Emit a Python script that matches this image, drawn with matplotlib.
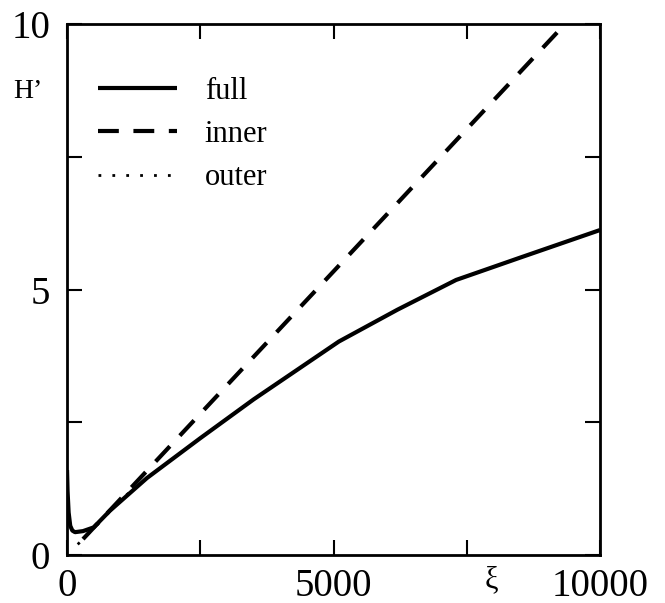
import numpy as np
import matplotlib
matplotlib.use("Agg")
import matplotlib.pyplot as plt

plt.rcParams['font.family'] = ['Liberation Serif', 'DejaVu Serif']

# full solution
full_xi = [0, 10, 30, 60, 100, 150, 300, 500, 800, 1500, 2500, 3500, 5100, 6200, 7300, 8500, 10000]
full_h = [1.6, 1.2, 0.8, 0.55, 0.46, 0.43, 0.45, 0.52, 0.83, 1.45, 2.2, 2.93, 4.02, 4.62, 5.18, 5.6, 6.12]

# inner solution (straight line)
inner_xi = [300, 9400]
inner_h = [0.3, 10.06]

# outer solution, only visible near the origin
outer_xi = [200, 263, 400, 600, 900, 1300]
outer_h = [0.2, 0.26, 0.4, 0.6, 0.93, 1.3]

x_ticks = [0, 2500, 5000, 7500, 10000]
x_labels = ['0', '', '5000', '', '10000']
y_ticks = [0, 2.5, 5, 7.5, 10]
y_labels = ['0', '', '5', '', '10']

fig = plt.figure(figsize=(6.65, 6.03), dpi=100)
ax = fig.add_axes([0.1008, 0.0796, 0.8015, 0.8806])

ax.plot(full_xi, full_h, color='black', lw=3, solid_capstyle='butt', label='full')
ax.plot(inner_xi, inner_h, color='black', lw=3, linestyle=(0, (5, 3.5)), dash_capstyle='butt', label='inner')
ax.plot(outer_xi, outer_h, color='black', lw=2, linestyle=(0, (1, 4)), label='outer')

ax.set_xlim(0, 10000)
ax.set_ylim(0, 10)
ax.set_xticks(x_ticks)
ax.set_xticklabels(x_labels)
ax.set_yticks(y_ticks)
ax.set_yticklabels(y_labels)
ax.tick_params(direction='in', length=10.5, width=1.5, labelsize=28,
               top=True, right=True)
ax.tick_params(axis='x', pad=9)
ax.tick_params(axis='y', pad=12)
for s in ax.spines.values():
    s.set_linewidth(2)

leg = ax.legend(loc='upper left', bbox_to_anchor=(0.058, 0.90), frameon=False,
                fontsize=22, handlelength=2.58, handletextpad=0.92,
                labelspacing=0.46, borderpad=0, borderaxespad=0)

fig.text(13, 511, 'H’', fontsize=20, transform=None, ha='left', va='center')
fig.text(491, 23, 'ξ', fontsize=22, transform=None, ha='center', va='center')

fig.savefig('out.png', dpi=100)
